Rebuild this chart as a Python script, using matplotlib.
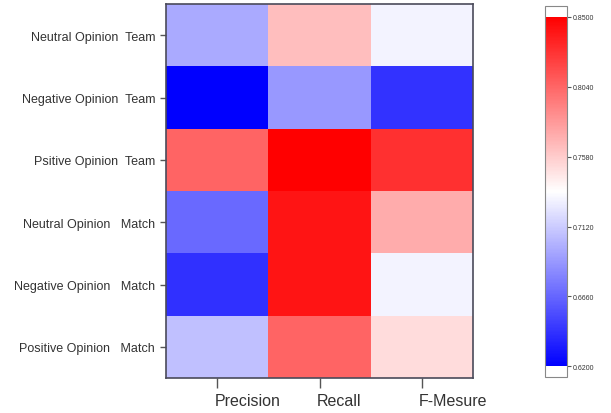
import numpy as np
import matplotlib.pyplot as plt
import matplotlib.transforms as mtrans

plt.rcParams['font.family'] = ['Liberation Sans', 'DejaVu Sans']

# rows (top to bottom) and metric columns
rows = ['Neutral Opinion  Team', 'Negative Opinion  Team', 'Psitive Opinion  Team',
        'Neutral Opinion   Match', 'Negative Opinion   Match', 'Positive Opinion   Match']
cols = ['Precision', 'Recall', 'F-Mesure']
precision = [0.697, 0.620, 0.805, 0.668, 0.642, 0.707]
recall = [0.764, 0.689, 0.850, 0.841, 0.841, 0.805]
fmesure = [0.730, 0.643, 0.828, 0.772, 0.730, 0.751]
cbar_ticks = [0.6200, 0.6660, 0.7120, 0.7580, 0.8040, 0.8500]

vals = np.array([precision, recall, fmesure]).T
txt = '#333333'

fig = plt.figure(figsize=(6.11, 4.14), dpi=100)
ax = fig.add_axes([0.272, 0.0845, 0.502, 0.903])
cmap = plt.get_cmap('bwr').copy()
cmap.set_over('white')
cmap.set_under('white')
im = ax.imshow(vals, cmap=cmap, vmin=0.62, vmax=0.85, aspect='auto')

ax.set_xticks(range(len(cols)))
ax.set_xticklabels(cols, fontsize=11.5, color=txt, ha='left')
ax.set_yticks(range(len(rows)))
ax.set_yticklabels(rows, fontsize=9, color=txt)
ax.tick_params(axis='x', length=7, width=1, color='#555555', pad=4)
ax.tick_params(axis='y', length=4, width=1, color='#555555', pad=4)
# labels start just left of the tick, as in the original
off = mtrans.ScaledTranslation(-3/100, 0, fig.dpi_scale_trans)
for lab in ax.get_xticklabels():
    lab.set_transform(lab.get_transform() + off)
for s in ax.spines.values():
    s.set_color('#4a4a5a')
    s.set_linewidth(1.2)

cax = fig.add_axes([0.892, 0.087, 0.036, 0.896])
cb = fig.colorbar(im, cax=cax, extend='both', extendrect=True, extendfrac=0.03)
cb.set_ticks(cbar_ticks)
cb.set_ticklabels(['%.4f' % t for t in cbar_ticks])
cb.ax.tick_params(labelsize=5, length=3, width=0.8, color='#555555', labelcolor=txt, pad=1)
cb.outline.set_edgecolor('#888888')
cb.outline.set_linewidth(0.8)

fig.savefig('out.png', dpi=100)
